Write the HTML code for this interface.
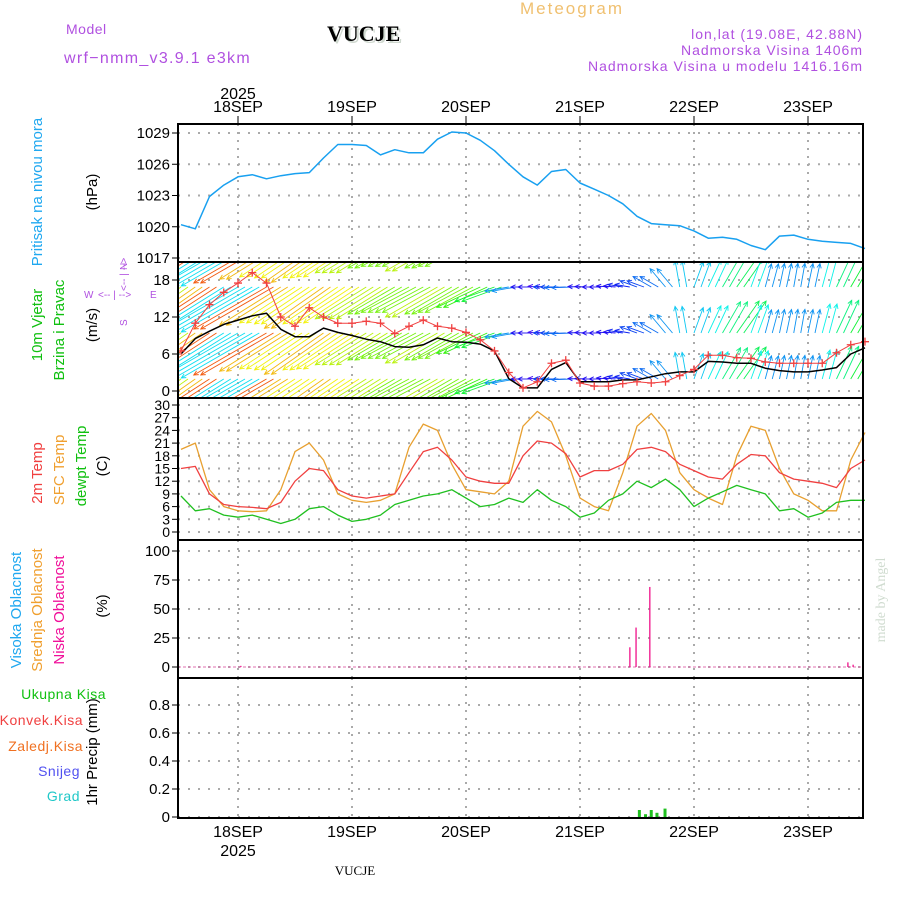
<!DOCTYPE html>
<html><head><meta charset="utf-8"><title>Meteogram VUCJE</title>
<style>
html,body{margin:0;padding:0;background:#fff;}
svg{display:block;font-family:"Liberation Sans",sans-serif;}
</style></head>
<body>
<svg id="chart" width="900" height="900" viewBox="0 0 900 900" xmlns="http://www.w3.org/2000/svg">
<defs>
<clipPath id="clipW"><rect x="178" y="262" width="685" height="136"/></clipPath>
</defs>
<g>
<text x="520" y="14" font-size="17" fill="#f0c070" letter-spacing="2">Meteogram</text>
<text x="66" y="34" font-size="14" fill="#b050e0" letter-spacing="0.5">Model</text>
<text x="64" y="63" font-size="16" fill="#b050e0" letter-spacing="1.3">wrf−nmm_v3.9.1  e3km</text>
<text x="329" y="43" font-size="22" font-weight="bold" font-family="Liberation Serif, serif" fill="#cfd8cf">VUCJE</text>
<text x="327" y="41" font-size="22" font-weight="bold" font-family="Liberation Serif, serif" fill="#000">VUCJE</text>
<text x="863" y="39" font-size="14" fill="#b050e0" text-anchor="end" letter-spacing="1">lon,lat (19.08E, 42.88N)</text>
<text x="863" y="55" font-size="14" fill="#b050e0" text-anchor="end" letter-spacing="1">Nadmorska Visina 1406m</text>
<text x="863" y="71" font-size="14" fill="#b050e0" text-anchor="end" letter-spacing="1">Nadmorska Visina u modelu 1416.16m</text>
<text x="238" y="99" font-size="16" text-anchor="middle">2025</text>
<text x="238" y="856" font-size="16" text-anchor="middle">2025</text>
<text x="355" y="875" font-size="13" font-family="Liberation Serif, serif" text-anchor="middle">VUCJE</text>
<text transform="translate(885,600) rotate(-90)" font-size="14" fill="#d0dcd0" font-family="Liberation Serif, serif" text-anchor="middle">made by Angel</text>
</g>
<g>
<text transform="translate(42,192) rotate(-90)" font-size="15" fill="#20a8f0" text-anchor="middle">Pritisak na nivou mora</text>
<text transform="translate(97,192) rotate(-90)" font-size="15" text-anchor="middle">(hPa)</text>
<text transform="translate(42,325) rotate(-90)" font-size="15" fill="#10c010" text-anchor="middle">10m Vjetar</text>
<text transform="translate(64,330) rotate(-90)" font-size="15" fill="#10c010" text-anchor="middle">Brzina i Pravac</text>
<text transform="translate(97,325) rotate(-90)" font-size="15" text-anchor="middle">(m/s)</text>
<g font-size="10" fill="#b050e0">
<text x="84" y="298">W</text><text x="150" y="298">E</text>
<text x="98" y="298">&lt;-- | --&gt;</text>
<text transform="translate(127,291) rotate(-90)">&lt;-- | --&gt;</text>
<text transform="translate(127,270) rotate(-90)">N</text>
<text transform="translate(127,326) rotate(-90)">S</text>
</g>
<text transform="translate(42,473) rotate(-90)" font-size="15" fill="#f04040" text-anchor="middle">2m Temp</text>
<text transform="translate(64,470) rotate(-90)" font-size="15" fill="#f0a030" text-anchor="middle">SFC Temp</text>
<text transform="translate(86,466) rotate(-90)" font-size="15" fill="#10c010" text-anchor="middle">dewpt Temp</text>
<text transform="translate(107,466) rotate(-90)" font-size="15" text-anchor="middle">(C)</text>
<text transform="translate(21,610) rotate(-90)" font-size="15" fill="#20a8f0" text-anchor="middle">Visoka Oblacnost</text>
<text transform="translate(42,610) rotate(-90)" font-size="15" fill="#f0a030" text-anchor="middle">Srednja Oblacnost</text>
<text transform="translate(64,610) rotate(-90)" font-size="15" fill="#f0109a" text-anchor="middle">Niska Oblacnost</text>
<text transform="translate(107,606) rotate(-90)" font-size="15" text-anchor="middle">(%)</text>
<text transform="translate(97,752) rotate(-90)" font-size="15" text-anchor="middle">1hr Precip (mm)</text>
<text x="106" y="699" font-size="14" fill="#10c010" text-anchor="end" letter-spacing="0.5">Ukupna  Kisa</text>
<text x="83" y="725" font-size="14" fill="#f04040" text-anchor="end" letter-spacing="0.5">Konvek.Kisa</text>
<text x="83" y="751" font-size="14" fill="#f07020" text-anchor="end" letter-spacing="0.5">Zaledj.Kisa</text>
<text x="80" y="776" font-size="14" fill="#5050f0" text-anchor="end" letter-spacing="0.5">Snijeg</text>
<text x="80" y="801" font-size="14" fill="#20c8c8" text-anchor="end" letter-spacing="0.5">Grad</text>
</g>
<g id="layer"></g>
</svg>
<script>
// time axis: hours from 18SEP 00UTC, 3-hourly
const hours = [];
for (let h = -12; h <= 132; h += 3) hours.push(h);
const dayLabels = ['18SEP','19SEP','20SEP','21SEP','22SEP','23SEP'];
const pressure = [1020.2,1019.8,1022.9,1024.0,1024.8,1025.0,1024.6,1024.9,1025.1,1025.2,1026.6,1027.9,1027.9,1027.8,1026.9,1027.4,1027.1,1027.1,1028.4,1029.1,1029.0,1028.3,1027.3,1026.0,1024.8,1024.0,1025.3,1025.5,1024.2,1023.6,1023.0,1022.2,1021.0,1020.3,1020.2,1020.1,1019.6,1018.9,1019.0,1018.8,1018.2,1017.8,1019.1,1019.2,1018.8,1018.6,1018.5,1018.4,1017.9];
const windSpeed = [6.0,8.5,9.7,10.8,11.5,12.2,12.6,10.0,8.8,8.8,10.2,9.5,9.0,8.4,8.0,7.2,7.1,7.5,8.6,8.0,7.9,7.6,6.5,2.0,0.5,0.5,3.5,4.6,1.5,1.5,1.5,1.8,1.8,2.3,2.8,3.1,3.1,4.8,4.7,4.5,4.5,3.7,3.3,3.1,3.1,3.4,3.8,6.0,7.0];
const windGust = [6.5,11,14,16,17.5,19.2,17.5,12,10.5,13.5,12,11,11,11.3,11,9.3,10.5,11.5,10.5,10.2,9.5,8.3,6.5,3,0.5,1.5,4.5,5,1.3,0.8,0.8,1.2,1.5,1.3,1.5,2.5,3.5,5.8,5.8,5.4,5.3,4.7,4.5,4.5,4.5,4.5,6.2,7.5,8];
const windDir = [55,55,57,58,60,60,60,58,57,56,55,56,57,58,58,60,62,62,60,60,62,65,70,80,90,95,90,88,92,90,95,100,110,120,140,170,200,205,210,215,200,195,192,190,192,195,205,210,212];
const rowSpeed = [10,12,14,15,15,15,14,12,11,11,12,11,11,10,10,9,9,9,10,9,9,8,7,4,2,1.5,3,3.5,2,2,2,2.5,3,3.5,4,4.5,4.5,5,6,6.5,5,4,4,4,4,5,6,7,8];
const temp2m = [15,15.5,9,6.5,6,5.8,5.5,7,12,15,14.5,10,8.5,8,8.5,9,14,19,20,17,13,12,11.5,11.5,18,21.5,21,18.5,13,14.5,14.5,16,19.5,20,19,16,14.5,13,12.5,16,18.3,18,14,12.5,12,11.5,10.5,15,17];
const tempSfc = [19.5,21,10,6,5,4.8,5,10,19,21,17,9,7.5,7,7.5,9,20,25.5,24,16,10,9.5,9,12,25,28.5,26,18,8,6,5,14,25,28,24,14,10,8,6.5,18,25,24,15,9,7.5,5,5,17,23.5];
const dewpt = [8.5,5,5.5,4,3.5,4,3,2,3,5.5,6,4,2.5,3,4,6.5,7.5,8.5,9,10,8,6,6.5,8,7,10,7.5,6,3.5,4.5,7.5,9,12,10.5,12.5,10,6,8,9.5,11,10,9,5,5.5,3.5,4.5,7,7.5,7.5];
const cloudHours = [0.6,82.5,83.8,86.7,128.4,129.5];
const cloudLow = [1,17,34,69,4,2];
const precipHours = [84.5,85.8,87.0,88.2,89.9];
const precipTotal = [0.05,0.02,0.05,0.03,0.06];
const pTicks = [1017,1020,1023,1026,1029];
const wTicks = [0,6,12,18];
const tTicks = [0,3,6,9,12,15,18,21,24,27,30];
const cTicks = [0,25,50,75,100];
const rTicks = [0,0.2,0.4,0.6,0.8];

const NS = 'http://www.w3.org/2000/svg';
const layer = document.getElementById('layer');
const X0 = 178, X1 = 863;
const x = h => 238 + h * 114 / 24;
const yP = v => 258 - (v - 1017) * 125 / 12;
const yW = v => 391 - v * 111 / 18;
const yT = v => 532 - v * 127 / 30;
const yC = v => 667 - v * 116 / 100;
const yR = v => 817 - v * 140;
function mk(tag, attrs, parent) {
  const e = document.createElementNS(NS, tag);
  for (const k in attrs) e.setAttribute(k, attrs[k]);
  (parent || layer).appendChild(e);
  return e;
}
const panels = [
  {name:'pressure', top:124, bot:262, ticks:pTicks, y:yP, fmt:v=>v},
  {name:'wind', top:262, bot:398, ticks:wTicks, y:yW, fmt:v=>v},
  {name:'temperature', top:398, bot:540, ticks:tTicks, y:yT, fmt:v=>v},
  {name:'cloud', top:540, bot:678, ticks:cTicks, y:yC, fmt:v=>v},
  {name:'precip', top:678, bot:818, ticks:rTicks, y:yR, fmt:v=>v===0?'0':v.toFixed(1)}
];
panels.forEach(p => {
  const g = mk('g', {});
  
  
  for (let d = 0; d < dayLabels.length; d++) {
    const gx = x(d * 24);
    const l = mk('line', {x1:gx, x2:gx, y1:p.top, y2:p.bot, stroke:'#aaa', 'stroke-width':2, 'stroke-dasharray':'2 6'}, g);
    
    
  }
  p.ticks.forEach(t => {
    const ty = p.y(t);
    const l = mk('line', {x1:X0, x2:X1, y1:ty, y2:ty, stroke:'#aaa', 'stroke-width':2, 'stroke-dasharray':'2 8'}, g);
    
    
    const tk = mk('line', {x1:X0-6, x2:X0, y1:ty, y2:ty, stroke:'#000', 'stroke-width':1}, g);
    
    
    const fs = p.name === 'temperature' ? 14 : 15;
    const tx = mk('text', {x:X0-8, y:ty+5, 'font-size':fs, 'text-anchor':'end'}, g);
    tx.textContent = p.fmt(t);
    
    
  });
});
dayLabels.forEach((lab, d) => {
  const dx = x(d * 24);
  [[112, 'top'], [837, 'bottom']].forEach(([yy, pos]) => {
    const t = mk('text', {x:dx, y:yy, 'font-size':16, 'text-anchor':'middle'});
    t.textContent = lab;
    
    
  });
  const tk = mk('line', {x1:dx, x2:dx, y1:116, y2:124, stroke:'#000'});
  
  
});
function line(xs, ys, fy, color, w, name, parent) {
  const pts = xs.map((h, i) => x(h).toFixed(1) + ',' + fy(ys[i]).toFixed(1)).join(' ');
  const e = mk('polyline', {points:pts, fill:'none', stroke:color, 'stroke-width':w, 'stroke-linejoin':'round'}, parent);
  
  
  return e;
}
line(hours, pressure, yP, '#18a0f0', 1.5, 'pressure-line');
function spdColor(s) {
  const stops = [[0,275],[2,245],[4,205],[6,150],[8,110],[10,75],[12,45],[14,20],[16,350]];
  let hue = stops[stops.length-1][1];
  for (let i = 0; i < stops.length - 1; i++) {
    if (s >= stops[i][0] && s <= stops[i+1][0]) {
      const f = (s - stops[i][0]) / (stops[i+1][0] - stops[i][0]);
      hue = stops[i][1] + f * (stops[i+1][1] - stops[i][1]);
    }
  }
  return 'hsl(' + hue + ',90%,50%)';
}
const wg = mk('g', {'clip-path':'url(#clipW)'});


[241, 287, 333, 379].forEach(base => {
  hours.forEach((h, i) => {
    for (let k = 0; k < 2; k++) {
      const sp = rowSpeed[i];
      const len = sp * 6;
      const a = windDir[i] * Math.PI / 180;
      const bx = x(h) + k * 7, by = base;
      const ex = bx - Math.sin(a) * len, ey = by + Math.cos(a) * len;
      const c = spdColor(sp);
      const ar = mk('line', {x1:bx, y1:by, x2:ex, y2:ey, stroke:c, 'stroke-width':0.9}, wg);
      
      
      const ang = Math.atan2(ey - by, ex - bx);
      const hd = `M${ex - 5*Math.cos(ang-0.45)},${ey - 5*Math.sin(ang-0.45)} L${ex},${ey} L${ex - 5*Math.cos(ang+0.45)},${ey - 5*Math.sin(ang+0.45)}`;
      const hp = mk('path', {d:hd, stroke:c, fill:'none', 'stroke-width':0.9}, wg);
      
      
    }
  });
});
line(hours, windSpeed, yW, '#000', 1.5, 'wind-speed-line');
line(hours, windGust, yW, '#f04040', 1, 'wind-gust-line');
const gg = mk('g', {});


hours.forEach((h, i) => {
  const cx = x(h), cy = yW(windGust[i]);
  const m = mk('path', {d:`M${cx-4},${cy}h8M${cx},${cy-4}v8`, stroke:'#f04040', 'stroke-width':1.3}, gg);
  
  
});
line(hours, tempSfc, yT, '#e8a030', 1.3, 'sfc-temp-line');
line(hours, temp2m, yT, '#f04040', 1.3, 'temp-2m-line');
line(hours, dewpt, yT, '#20c020', 1.3, 'dewpoint-line');
const cb = mk('line', {x1:X0, x2:X1, y1:yC(0), y2:yC(0), stroke:'#e070b0', 'stroke-width':1, 'stroke-dasharray':'3 2'});


cloudHours.forEach((h, i) => {
  const b = mk('line', {x1:x(h), x2:x(h), y1:yC(0), y2:yC(cloudLow[i]), stroke:'#f0108a', 'stroke-width':1.3});
  
  
});
precipHours.forEach((h, i) => {
  const r = mk('rect', {x:x(h)-1.5, y:yR(precipTotal[i]), width:3, height:yR(0)-yR(precipTotal[i]), fill:'#20c020'});
  
  
});
panels.forEach(p => {
  const f = mk('rect', {x:X0, y:p.top, width:X1-X0, height:p.bot-p.top, fill:'none', stroke:'#000', 'stroke-width':2});
  
  
});
</script>
</body></html>
